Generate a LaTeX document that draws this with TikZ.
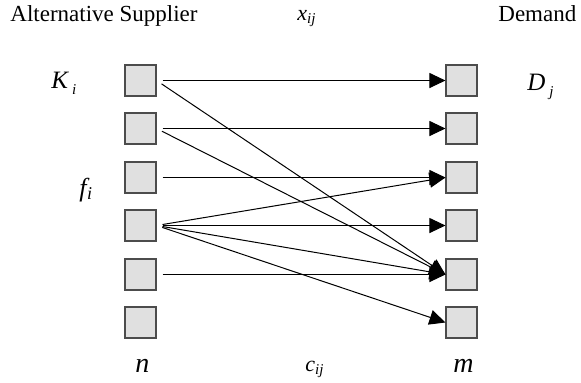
\documentclass[tikz,border=0pt]{standalone}
\usepackage{fontspec}
\setmainfont{Liberation Serif}
\usetikzlibrary{arrows.meta}
\begin{document}
\begin{tikzpicture}[x=0.5pt,y=-0.5pt,
  box/.style={draw=black!70,fill=black!12,line width=0.55pt,minimum size=15.5pt,inner sep=0pt},
  flow/.style={line width=0.5pt,shorten <=3pt,-{Triangle[length=8pt,width=7.5pt]}},
  txt/.style={font=\fontsize{11.5}{13}\selectfont,inner sep=0pt,anchor=base west},
  mlab/.style={inner sep=0pt,anchor=base west}]
\useasboundingbox (0,0) rectangle (581,382);
\foreach \k/\y in {1/80.5,2/128.5,3/177.5,4/225.5,5/274.5,6/322.5}{
  \node[box] (L\k) at (140.5,\y) {};
  \node[box] (R\k) at (461.5,\y) {};
}
\node[txt] (t1) at (10,21) {Alternative Supplier};
\node[txt] (t2) at (498,21) {Demand};
\node[mlab] (x) at (297,20) {\fontsize{11}{12}\selectfont\itshape x\raisebox{-0.3ex}{\fontsize{7.5}{8}\selectfont ij}};
\node[mlab] (c) at (305,371) {\fontsize{11}{12}\selectfont\itshape c\raisebox{-0.3ex}{\fontsize{7.5}{8}\selectfont ij}};
\node[mlab] (K) at (51,88) {\fontsize{12.5}{13}\selectfont\itshape K\kern2pt\raisebox{-0.6ex}{\fontsize{7.5}{8}\selectfont i}};
\node[mlab] (D) at (527,90) {\fontsize{12.5}{13}\selectfont\itshape D\kern2pt\raisebox{-0.6ex}{\fontsize{7.5}{8}\selectfont j}};
\node[mlab] (f) at (79,196) {\fontsize{13}{14}\selectfont\itshape f\kern0.3pt\raisebox{-0.3ex}{\fontsize{9}{10}\selectfont i}};
\node[mlab] (n) at (135,372) {\fontsize{14}{15}\selectfont\itshape n};
\node[mlab] (m) at (453,372) {\fontsize{14}{15}\selectfont\itshape m};
\draw[flow] (L1.east) -- (R1.west);
\draw[flow] (L1.east) -- (R5.west);
\draw[flow] (L2.east) -- (R2.west);
\draw[flow] (L2.east) -- (R5.west);
\draw[flow] (L3.east) -- (R3.west);
\draw[flow] (L4.east) -- (R3.west);
\draw[flow] (L4.east) -- (R4.west);
\draw[flow] (L4.east) -- (R5.west);
\draw[flow] (L4.east) -- (R6.west);
\draw[flow] (L5.east) -- (R5.west);
\end{tikzpicture}
\end{document}
